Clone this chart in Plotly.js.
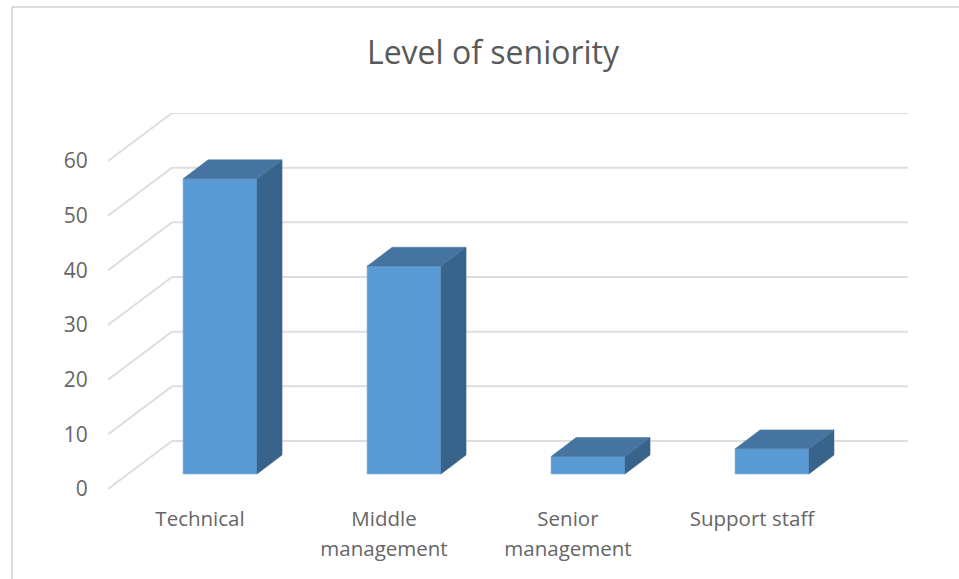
<!DOCTYPE html>
<html>
<head>
<meta charset="utf-8">
<script src="https://cdn.plot.ly/plotly-3.0.1.min.js"></script>
<style>html,body{margin:0;padding:0;background:#fff}#chart{width:959px;height:579px}</style>
</head>
<body>
<div id="chart"></div>
<script>
const categories = ["Technical", "Middle<br>management", "Senior<br>management", "Support staff"];
const seniority = [54, 38, 3.2, 4.6];
const valueTicks = [0, 10, 20, 30, 40, 50, 60];
const chartTitle = "Level of seniority";

// Oblique projection of the fake 3D box (slots on x, value units on y)
const wallDx = 0.348, wallDy = 8.78;
const gapDx = 0.109, gapDy = 2.74;
const boxDx = 0.136, boxDy = 3.475;
const barWidth = 0.402;

const W = 959, H = 579, L = 108, R = 51, T = 113, B = 90;
const px = v => (v - L) / (W - L - R);
const py = v => (H - B - v) / (H - T - B);

const frontColor = "#5b9bd5", topColor = "#44749f", sideColor = "#38638a", gridColor = "#dedede", textColor = "#666666";
const font = "'Open Sans', sans-serif";

const centres = categories.map((c, i) => i + 0.5 + gapDx);

const front = {
  type: "bar", x: centres, y: seniority, base: categories.map(() => gapDy), width: barWidth,
  marker: {color: frontColor, line: {color: "#7fb2e0", width: 0.6}}, hoverinfo: "y", showlegend: false
};
const faces = [];
seniority.forEach((v, i) => {
  const xl = centres[i] - barWidth / 2, xr = centres[i] + barWidth / 2;
  const yb = gapDy, yt = gapDy + v;
  faces.push({
    type: "scatter", mode: "lines", fill: "toself", fillcolor: sideColor,
    x: [xr, xr, xr + boxDx, xr + boxDx, xr], y: [yb, yt, yt + boxDy, yb + boxDy, yb],
    line: {width: 0.5, color: sideColor}, hoverinfo: "skip", showlegend: false
  });
  faces.push({
    type: "scatter", mode: "lines", fill: "toself", fillcolor: topColor,
    x: [xl, xr, xr + boxDx, xl + boxDx, xl], y: [yt, yt, yt + boxDy, yt + boxDy, yt],
    line: {width: 0.5, color: topColor}, hoverinfo: "skip", showlegend: false
  });
});

const line = {color: gridColor, width: 2};
const shapes = [];
valueTicks.forEach(t => {
  shapes.push({type: "line", layer: "below", xref: "x", yref: "y", x0: 0, y0: t, x1: wallDx, y1: t + wallDy, line});
  shapes.push({type: "line", layer: "below", xref: "x", yref: "y", x0: wallDx, y0: t + wallDy, x1: categories.length + wallDx, y1: t + wallDy, line});
});
// Outer chart frame, cropped at the picture's right and bottom
const frame = {color: "#dcdcdc", width: 2};
shapes.push({type: "line", xref: "paper", yref: "paper", x0: px(12), y0: py(7), x1: px(W), y1: py(7), line: frame});
shapes.push({type: "line", xref: "paper", yref: "paper", x0: px(12), y0: py(7), x1: px(12), y1: py(H), line: frame});

const layout = {
  width: W, height: H, autosize: false,
  margin: {l: L, r: R, t: T, b: B, pad: 0},
  paper_bgcolor: "#fff", plot_bgcolor: "rgba(0,0,0,0)",
  showlegend: false,
  title: {text: chartTitle, font: {family: font, size: 32, color: "#595959"}, x: 493 / W, xanchor: "center", xref: "container", y: 1 - 53 / H, yanchor: "middle", yref: "container"},
  xaxis: {
    range: [0, categories.length + wallDx], showgrid: false, zeroline: false, showline: false,
    tickmode: "array", tickvals: categories.map((c, i) => i + 0.5),
    ticktext: categories.map(c => c.split("<br>").map(s => `<span style="font-size:20.5px">${s}</span>`).join("<br>")),
    tickangle: 0, ticks: "outside", ticklen: 8, tickcolor: "rgba(0,0,0,0)",
    tickfont: {family: font, size: 23, color: textColor}
  },
  yaxis: {
    range: [0, 60 + wallDy], showgrid: false, zeroline: false, showline: false,
    tickmode: "array", tickvals: valueTicks, ticktext: valueTicks.map(String),
    ticks: "outside", ticklen: 15, tickcolor: "rgba(0,0,0,0)", ticklabelshift: 1.5,
    tickfont: {family: font, size: 21, color: textColor}
  },
  shapes
};
Plotly.newPlot("chart", [front, ...faces], layout, {displayModeBar: false, responsive: false});
</script>
</body>
</html>
